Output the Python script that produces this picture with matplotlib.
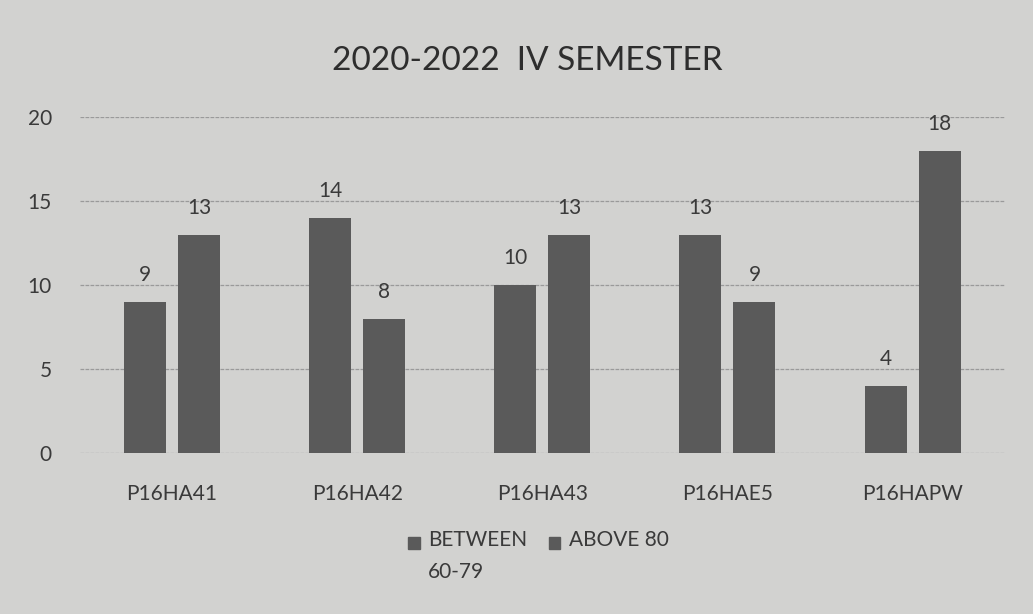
import matplotlib.pyplot as plt
from matplotlib.patches import Rectangle
import numpy as np

# Data
subjects = ['P16HA41', 'P16HA42', 'P16HA43', 'P16HAE5', 'P16HAPW']
between_60_79 = [9, 14, 10, 13, 4]
above_80 = [13, 8, 13, 9, 18]
series_names = ['BETWEEN\n60-79', 'ABOVE 80']

plt.rcParams['font.family'] = ['Lato', 'DejaVu Sans']

paper = '#d2d2d0'
bar_col = '#5a5a5a'
txt_col = '#3a3a3a'

fig = plt.figure(figsize=(10.33, 6.14), dpi=100, facecolor=paper)
ax = fig.add_axes([0.077, 0.262, 0.896, 0.547], facecolor=paper)

x = np.arange(len(subjects))
w = 0.227
off = 0.146

b1 = ax.bar(x - off, between_60_79, w, color=bar_col, zorder=3)
b2 = ax.bar(x + off, above_80, w, color=bar_col, zorder=3)

# value labels above bars
for bars in (b1, b2):
    for r in bars:
        ax.text(r.get_x() + r.get_width() / 2, r.get_height() + 1.0, '%d' % r.get_height(),
                ha='center', va='bottom', fontsize=15, color=txt_col)

ax.set_xlim(-0.5, len(subjects) - 0.5)
ax.set_ylim(0, 20)
ax.set_yticks([0, 5, 10, 15, 20])
ax.set_xticks(x)
ax.set_xticklabels(subjects)
ax.tick_params(axis='both', length=0, labelsize=15, colors=txt_col)
ax.tick_params(axis='y', pad=20)
ax.tick_params(axis='x', pad=22)
ax.grid(axis='y', color='#9a9a9a', linewidth=0.9, linestyle=(0, (3, 1)), zorder=0)
for s in ax.spines.values():
    s.set_visible(False)

fig.text(0.51, 0.9, '2020-2022  IV SEMESTER', ha='center', va='center',
         fontsize=24, color='#2e2e2e')

# legend drawn by hand: square lined up with first text line
leg_x = [0.395, 0.531]
for lx, name in zip(leg_x, series_names):
    fig.patches.append(Rectangle((lx, 0.106), 0.0115, 0.019, transform=fig.transFigure,
                                 color=bar_col, figure=fig))
    fig.text(lx + 0.008 + 0.0115, 0.136, name, ha='left', va='top', fontsize=15,
             color=txt_col, linespacing=1.75)

plt.savefig('out.png', dpi=100, facecolor=paper)
